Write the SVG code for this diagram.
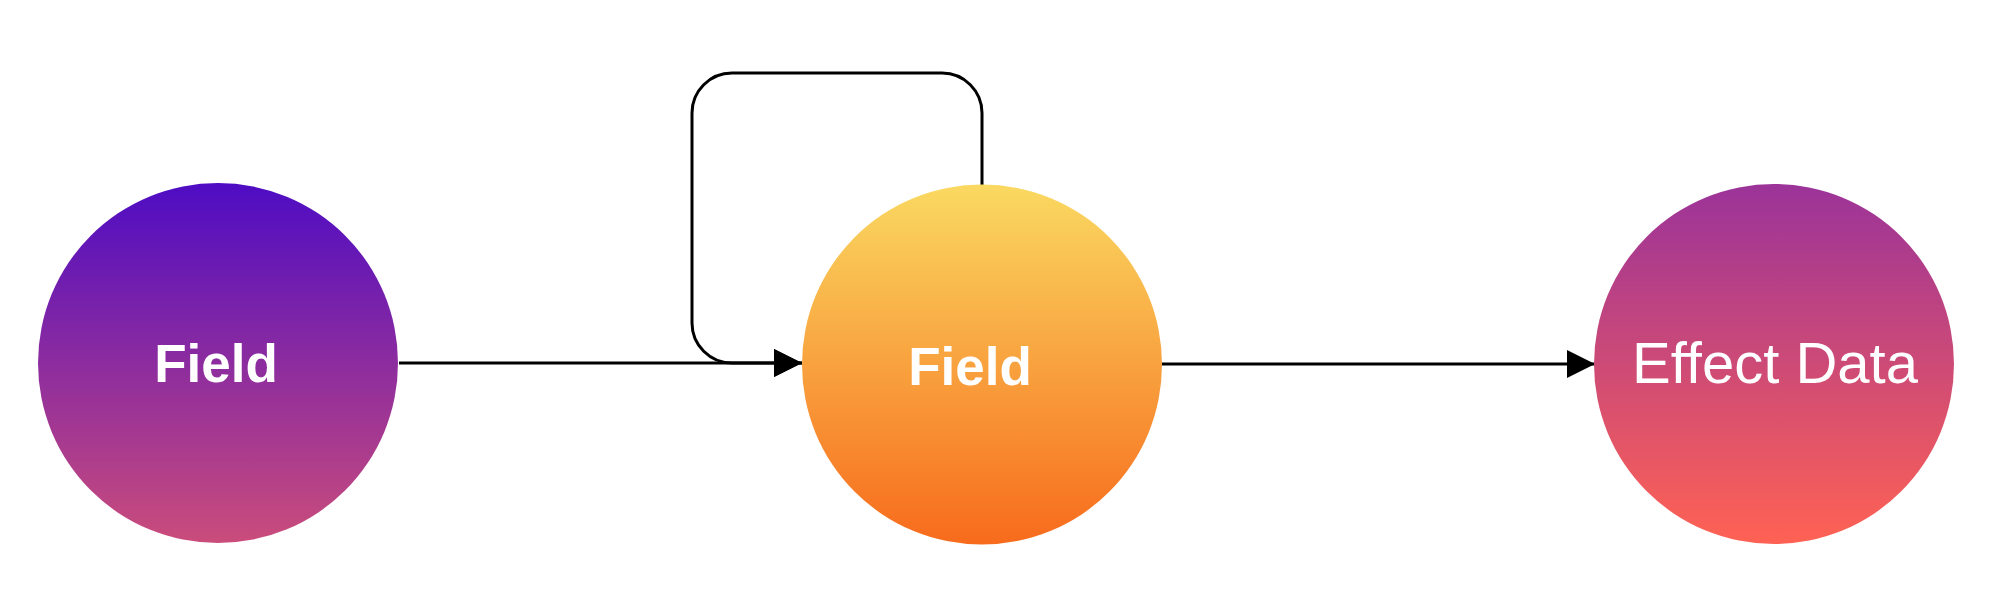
<svg xmlns="http://www.w3.org/2000/svg" width="1994" height="598" viewBox="0 0 1994 598">
<style>
.edge{fill:none;stroke:#000;stroke-width:3;stroke-linejoin:round}
.lbl{fill:#fff;font-family:"Liberation Sans",Arial,Helvetica,sans-serif;text-anchor:middle}
.b{font-weight:bold;font-size:53px}
.n{font-size:58px}
</style>
<defs>
<linearGradient id="g1" x1="0" y1="0" x2="0" y2="1"><stop offset="0" stop-color="#4E0CC3"/><stop offset="1" stop-color="#CA4C7B"/></linearGradient>
<linearGradient id="g2" x1="0" y1="0" x2="0" y2="1"><stop offset="0" stop-color="#FAD961"/><stop offset="1" stop-color="#F76B1C"/></linearGradient>
<linearGradient id="g3" x1="0" y1="0" x2="0" y2="1"><stop offset="0" stop-color="#9B3399"/><stop offset="1" stop-color="#FF6253"/></linearGradient>
<marker id="arr" markerUnits="userSpaceOnUse" markerWidth="28" markerHeight="28" refX="28" refY="14" orient="auto" viewBox="0 0 28 28"><path d="M0,0 L28,14 L0,28 Z" fill="#000"/></marker>
</defs>
<rect width="1994" height="598" fill="#fff"/>
<g id="connectors">
<path class="edge" d="M399,363 L802,363" marker-end="url(#arr)"/>
<path class="edge" d="M982,185 L982,113 A40,40 0 0 0 942,73 L732,73 A40,40 0 0 0 692,113 L692,323 A40,40 0 0 0 732,363 L802,363" marker-end="url(#arr)"/>
<path class="edge" d="M1162,364 L1595,364" marker-end="url(#arr)"/>
</g>
<g id="node1">
<circle cx="218" cy="363" r="180" fill="url(#g1)"/>
<text class="lbl b" x="216" y="382">Field</text>
</g>
<g id="node2">
<circle cx="982" cy="364.5" r="180" fill="url(#g2)"/>
<text class="lbl b" x="970" y="385">Field</text>
</g>
<g id="node3">
<circle cx="1774" cy="364" r="180" fill="url(#g3)"/>
<text class="lbl n" x="1775" y="383">Effect Data</text>
</g>
</svg>
